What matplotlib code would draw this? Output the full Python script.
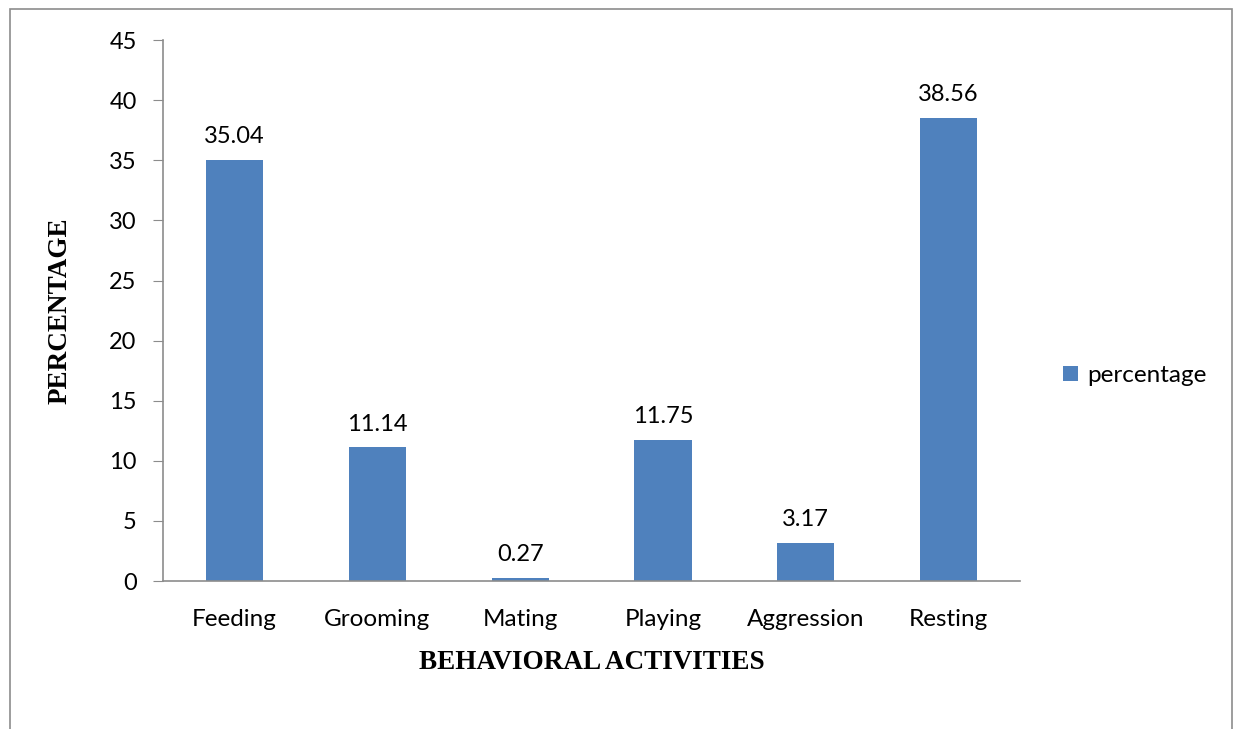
import matplotlib.pyplot as plt
from matplotlib.patches import Rectangle

# time budget per behaviour
activities = ["Feeding", "Grooming", "Mating", "Playing", "Aggression", "Resting"]
percentage = [35.04, 11.14, 0.27, 11.75, 3.17, 38.56]
yticks = [0, 5, 10, 15, 20, 25, 30, 35, 40, 45]

bar_color = "#4F81BD"
grey = "#8C8C8C"
label_font = "Lato"
title_font = "Liberation Serif"

fig = plt.figure(figsize=(12.35, 7.29), dpi=100)
ax = fig.add_axes([0.132, 0.203, 0.694, 0.742])

x = range(len(activities))
bars = ax.bar(x, percentage, width=0.4, color=bar_color, label="percentage", zorder=2)

# value labels above each bar
for b, v in zip(bars, percentage):
    ax.annotate(f"{v:.2f}", (b.get_x() + b.get_width() / 2, v),
                xytext=(0, 9), textcoords="offset points",
                ha="center", va="bottom", fontsize=17, family=label_font)

ax.set_xlim(-0.5, len(activities) - 0.5)
ax.set_ylim(0, 45)
ax.set_yticks(yticks)
ax.set_xticks(list(x))
ax.set_xticklabels(activities, fontsize=17.5, family=label_font)
ax.set_yticklabels([str(t) for t in yticks], fontsize=17, family=label_font)
ax.tick_params(axis="y", length=7, color=grey, pad=12)
ax.tick_params(axis="x", length=0, pad=20.5)

for side in ("top", "right"):
    ax.spines[side].set_visible(False)
for side in ("left", "bottom"):
    ax.spines[side].set_color(grey)
    ax.spines[side].set_linewidth(1.2)

ax.set_xlabel("BEHAVIORAL ACTIVITIES", fontsize=19.5, fontweight="bold",
              family=title_font, labelpad=14)
ax.set_ylabel("PERCENTAGE", fontsize=19.5, fontweight="bold",
              family=title_font, labelpad=26)

leg = ax.legend(loc="center left", bbox_to_anchor=(1.025, 0.38), frameon=False,
                prop={"family": label_font, "size": 17.5},
                handlelength=0.6, handleheight=0.6, handletextpad=0.4)

# outer chart border
fig.patches.append(Rectangle((10 / 1235, -0.05), 1222 / 1235, 0.05 + 1 - 9 / 729,
                             transform=fig.transFigure, fill=False,
                             edgecolor=grey, linewidth=1.2))

fig.savefig("out.png", dpi=100)
